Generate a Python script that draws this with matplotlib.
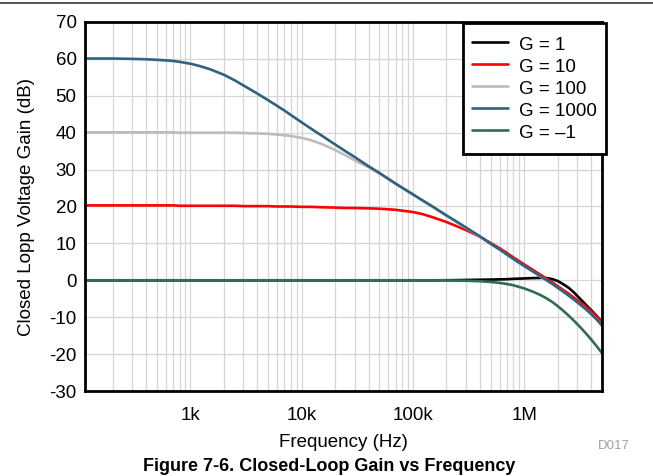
import matplotlib
matplotlib.use("Agg")
import matplotlib.pyplot as plt
from matplotlib.ticker import FixedLocator, LogLocator, NullFormatter
from matplotlib.lines import Line2D
from matplotlib.patches import Rectangle

plt.rcParams['font.family'] = ['Liberation Sans', 'DejaVu Sans']
plt.rcParams['axes.unicode_minus'] = False

# ---- data ----
freq_hz = [113, 150, 200, 300, 400, 500, 600, 700, 800,
           1e3, 1.2e3, 1.5e3, 2e3, 2.5e3, 3e3, 4e3, 5e3, 6e3, 7e3, 8e3,
           1e4, 1.2e4, 1.5e4, 2e4, 2.5e4, 3e4, 4e4, 5e4, 7e4,
           1e5, 1.2e5, 1.5e5, 2e5, 2.5e5, 3e5, 4e5, 5e5, 6e5, 7e5, 8e5,
           1e6, 1.2e6, 1.4e6, 1.6e6, 1.8e6, 2e6, 2.2e6, 2.5e6, 2.8e6,
           3.2e6, 3.6e6, 4e6, 4.5e6, 5e6]

gain_g1 = [0.0, 0.0, 0.0, 0.0, 0.0, 0.0, 0.0, 0.0, 0.0,
           0.0, 0.0, 0.0, 0.0, 0.0, 0.0, 0.0, 0.0, 0.0, 0.0, 0.0,
           0.0, 0.0, 0.0, 0.0, 0.0, 0.0, 0.0, 0.0, 0.0,
           0.0, 0.0, 0.0, 0.02, 0.05, 0.1, 0.15, 0.2, 0.25, 0.3, 0.4,
           0.5, 0.6, 0.65, 0.6, 0.3, -0.2, -0.9, -2.0, -3.3,
           -5.1, -6.7, -8.1, -9.7, -11.3]

gain_g10 = [20.3, 20.3, 20.3, 20.3, 20.3, 20.3, 20.3, 20.3, 20.2,
            20.2, 20.2, 20.2, 20.2, 20.2, 20.1, 20.1, 20.1, 20.0, 20.0, 20.0,
            19.9, 19.9, 19.8, 19.7, 19.6, 19.6, 19.5, 19.4, 19.1,
            18.5, 18.0, 17.1, 15.8, 14.6, 13.6, 11.8, 10.1, 8.7, 7.4, 6.2,
            4.3, 2.8, 1.5, 0.4, -0.6, -1.6, -2.45, -3.6, -4.7,
            -6.0, -7.2, -8.4, -9.8, -11.3]

gain_g100 = [40.1, 40.1, 40.1, 40.1, 40.1, 40.1, 40.1, 40.1, 40.0,
             40.0, 40.0, 40.0, 40.0, 40.0, 39.9, 39.8, 39.7, 39.5, 39.3, 39.1,
             38.6, 38.0, 37.0, 35.3, 33.8, 32.5, 30.6, 28.9, 26.1,
             23.2, 21.7, 19.9, 17.5, 15.7, 14.2, 11.8, 9.8, 8.3, 6.9, 5.7,
             3.8, 2.3, 1.0, -0.1, -1.1, -2.05, -2.92, -4.14, -5.27,
             -6.66, -7.94, -9.18, -10.72, -12.28]

gain_g1000 = [60.1, 60.1, 60.1, 60.0, 59.9, 59.75, 59.6, 59.45, 59.2,
              58.7, 58.1, 57.2, 55.7, 54.2, 52.8, 50.6, 48.8, 47.3, 46.0, 44.8,
              42.8, 41.2, 39.3, 36.8, 34.9, 33.4, 30.9, 29.1, 26.2,
              23.3, 21.8, 20.0, 17.6, 15.8, 14.3, 11.9, 9.9, 8.4, 7.0, 5.8,
              3.9, 2.4, 1.1, 0.0, -1.0, -2.0, -2.87, -4.09, -5.22,
              -6.61, -7.89, -9.13, -10.67, -12.23]

gain_gm1 = [0.0, 0.0, 0.0, 0.0, 0.0, 0.0, 0.0, 0.0, 0.0,
            0.0, 0.0, 0.0, 0.0, 0.0, 0.0, 0.0, 0.0, 0.0, 0.0, 0.0,
            0.0, 0.0, 0.0, 0.0, 0.0, 0.0, 0.0, 0.0, 0.0,
            0.0, 0.0, -0.01, -0.03, -0.07, -0.12, -0.25, -0.45, -0.7, -1.0, -1.35,
            -2.2, -3.1, -4.0, -4.95, -5.95, -7.0, -8.03, -9.53, -10.96,
            -12.76, -14.45, -16.05, -17.94, -19.73]

series_labels = ['G = 1', 'G = 10', 'G = 100', 'G = 1000', 'G = \u20131']
series_colors = ['#000000', '#ff0000', '#bcbcbc', '#2f6181', '#2e6e4f']

x_ticks = [1e3, 1e4, 1e5, 1e6]
x_tick_labels = ['1k', '10k', '100k', '1M']
y_ticks = [-30, -20, -10, 0, 10, 20, 30, 40, 50, 60, 70]

# ---- figure ----
W, H = 653, 476
fig = plt.figure(figsize=(W / 100, H / 100), dpi=100)
ax = fig.add_axes([85 / W, 1 - 391 / H, (602 - 85) / W, (391 - 22) / H])

fs = 13.5
all_gains = [gain_g1, gain_g10, gain_g100, gain_g1000, gain_gm1]
for g, lab, col in zip(all_gains, series_labels, series_colors):
    ax.plot(freq_hz, g, color=col, lw=1.9, label=lab,
            solid_capstyle='round', solid_joinstyle='round')

ax.set_xscale('log')
ax.set_xlim(113, 5e6)
ax.set_ylim(-30, 70)
ax.xaxis.set_major_locator(FixedLocator(x_ticks))
ax.set_xticklabels(x_tick_labels)
ax.xaxis.set_minor_locator(LogLocator(base=10, subs=range(2, 10), numticks=20))
ax.xaxis.set_minor_formatter(NullFormatter())
ax.set_yticks(y_ticks)
ax.tick_params(axis='both', which='both', length=0, labelsize=fs, colors='#000000')
ax.tick_params(axis='x', pad=11.5)
ax.tick_params(axis='y', pad=6)
ax.grid(True, which='both', color='#d6d6d6', lw=0.9)
ax.set_axisbelow(True)
for s in ax.spines.values():
    s.set_linewidth(2.0)
    s.set_color('#000000')

ax.set_xlabel('Frequency (Hz)', fontsize=fs, labelpad=7.5)
ax.set_ylabel('Closed Lopp Voltage Gain (dB)', fontsize=fs, labelpad=10.5)

# legend frame drawn as a box, entries placed inside it
ax.add_patch(Rectangle((463 / W, 1 - 154 / H), (606 - 463) / W, (154 - 23) / H,
                       transform=fig.transFigure, facecolor='white',
                       edgecolor='black', lw=2.0, clip_on=False, zorder=4.9))
leg = ax.legend(loc='upper right', bbox_to_anchor=(606 / W, 1 - 25 / H),
                bbox_transform=fig.transFigure, fontsize=fs, frameon=False,
                borderaxespad=0, handlelength=1.95, handletextpad=0.55,
                handleheight=1.15, labelspacing=0.12, borderpad=0.5)
leg.set_zorder(5)

# top rule and bottom caption
fig.add_artist(Line2D([0, 1], [1 - 3 / H, 1 - 3 / H], transform=fig.transFigure,
                      color='#3a3a3a', lw=1.2))
fig.text(614 / W, 1 - 446 / H, 'D017', fontsize=9.5, color='#a0a0a0',
         ha='center', va='center')
fig.text(329 / W, 1 - 471 / H, 'Figure 7-6. Closed-Loop Gain vs Frequency',
         fontsize=13, fontweight='bold', ha='center', va='baseline')

fig.savefig('out.png', dpi=100)
